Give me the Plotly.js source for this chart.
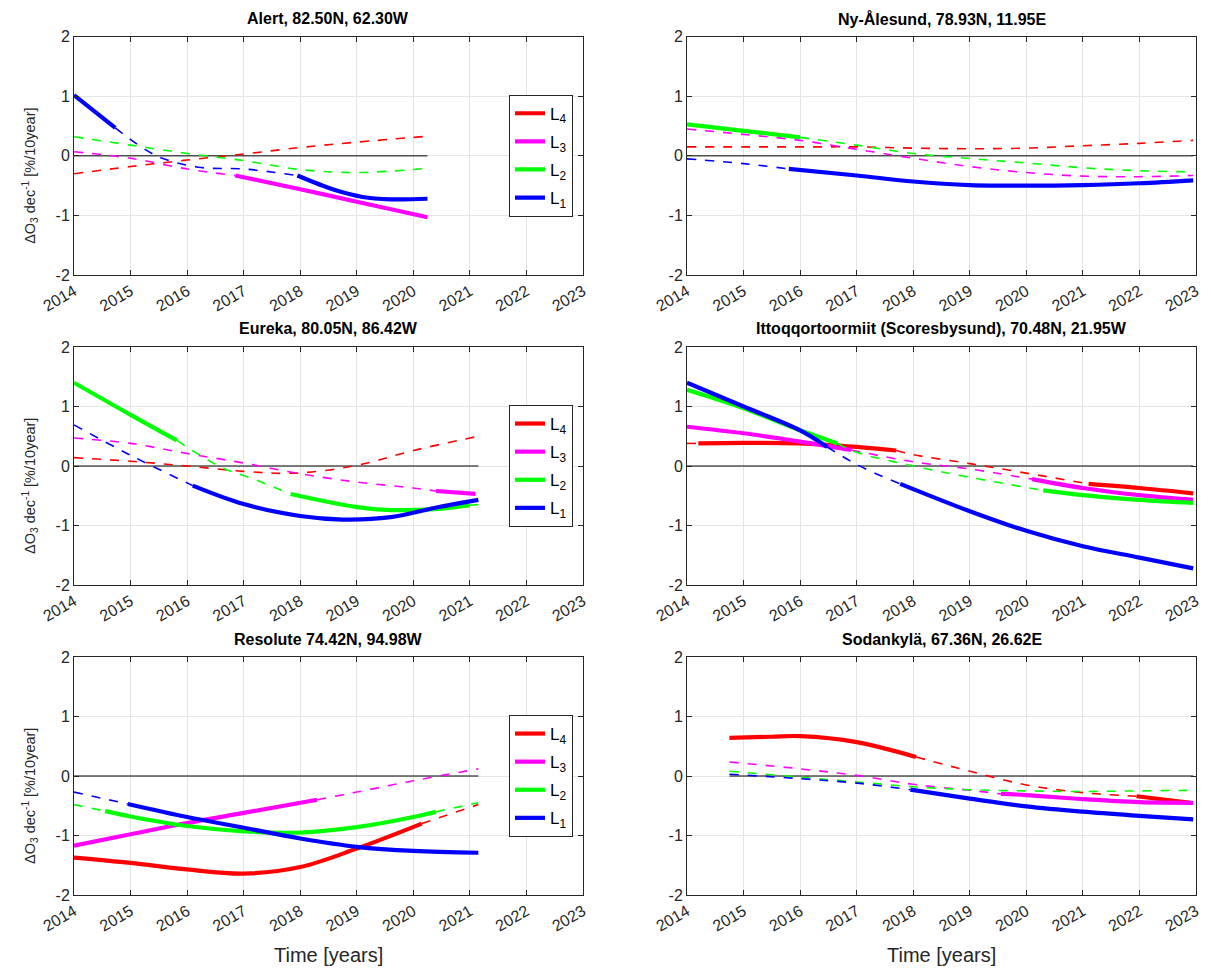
<!DOCTYPE html>
<html><head><meta charset="utf-8">
<script src="https://cdn.plot.ly/plotly-3.0.1.min.js"></script>
<style>html,body{margin:0;padding:0;background:#fff}</style>
</head><body><div id="chart" style="width:1211px;height:971px"></div>
<script>
// ---------- tick labels / categories ----------
const xTickVals = [2014, 2015, 2016, 2017, 2018, 2019, 2020, 2021, 2022, 2023];
const xTickText = ['2014', '2015', '2016', '2017', '2018', '2019', '2020', '2021', '2022', '2023'];
const yTickVals = [-2, -1, 0, 1, 2];
const yTickText = ['-2', '-1', '0', '1', '2'];
const levelLabels = ['L<sub>4</sub>', 'L<sub>3</sub>', 'L<sub>2</sub>', 'L<sub>1</sub>'];
const levelColors = ['#ff0000', '#ff00ff', '#00ff00', '#0000ff'];
const stationTitles = [
  'Alert, 82.50N, 62.30W',
  'Ny-Ålesund, 78.93N, 11.95E',
  'Eureka, 80.05N, 86.42W',
  'Ittoqqortoormiit (Scoresbysund), 70.48N, 21.95W',
  'Resolute 74.42N, 94.98W',
  'Sodankylä, 67.36N, 26.62E'
];
const yTitle = 'ΔO<sub>3</sub> dec<sup>-1</sup> [%/10year]';
const xTitle = 'Time [years]';

// ---------- data: x = year, y = trend, s = 1 solid (significant) / 0 dashed for segment starting at point ----------
// Alert
const alertL4x = [2014, 2015, 2016, 2017, 2018, 2019, 2020.25];
const alertL4y = [-0.30, -0.18, -0.07, 0.03, 0.14, 0.23, 0.33];
const alertL4s = [0, 0, 0, 0, 0, 0, 0];
const alertL3x = [2014, 2015, 2016, 2016.85, 2018, 2019, 2020.25];
const alertL3y = [0.07, -0.04, -0.22, -0.33, -0.56, -0.77, -1.03];
const alertL3s = [0, 0, 0, 1, 1, 1, 1];
const alertL2x = [2014, 2015, 2016, 2017, 2018, 2019, 2020.25];
const alertL2y = [0.32, 0.18, 0.04, -0.08, -0.23, -0.28, -0.21];
const alertL2s = [0, 0, 0, 0, 0, 0, 0];
const alertL1x = [2014, 2014.73, 2015.46, 2016.2, 2017, 2017.95, 2018.6, 2019.1, 2019.6, 2020.25];
const alertL1y = [1.02, 0.47, 0.0, -0.19, -0.22, -0.33, -0.57, -0.69, -0.73, -0.72];
const alertL1s = [1, 0, 0, 0, 0, 1, 1, 1, 1, 1];
// Ny-Ålesund
const nyL4x = [2014, 2015, 2016, 2017, 2018, 2019, 2020, 2021, 2022, 2022.95];
const nyL4y = [0.15, 0.15, 0.15, 0.15, 0.13, 0.12, 0.13, 0.17, 0.21, 0.26];
const nyL4s = [0, 0, 0, 0, 0, 0, 0, 0, 0, 0];
const nyL3x = [2014, 2015, 2016, 2017, 2018, 2019, 2020, 2021, 2022, 2022.95];
const nyL3y = [0.45, 0.36, 0.26, 0.11, -0.04, -0.18, -0.28, -0.34, -0.35, -0.33];
const nyL3s = [0, 0, 0, 0, 0, 0, 0, 0, 0, 0];
const nyL2x = [2014, 2015, 2016, 2017, 2018, 2019, 2020, 2021, 2022, 2022.95];
const nyL2y = [0.53, 0.42, 0.31, 0.18, 0.04, -0.045, -0.12, -0.20, -0.25, -0.27];
const nyL2s = [1, 1, 0, 0, 0, 0, 0, 0, 0, 0];
const nyL1x = [2014, 2015, 2015.8, 2017, 2018, 2019, 2020, 2021, 2022, 2022.95];
const nyL1y = [-0.05, -0.13, -0.22, -0.33, -0.43, -0.49, -0.50, -0.49, -0.46, -0.41];
const nyL1s = [0, 0, 1, 1, 1, 1, 1, 1, 1, 1];
// Eureka
const eurL4x = [2014, 2015, 2016, 2017, 2017.9, 2019, 2020, 2021.15];
const eurL4y = [0.14, 0.08, 0.0, -0.09, -0.12, 0.01, 0.26, 0.50];
const eurL4s = [0, 0, 0, 0, 0, 0, 0, 0];
const eurL3x = [2014, 2015, 2016, 2017, 2018, 2019, 2020, 2020.4, 2021.1];
const eurL3y = [0.47, 0.38, 0.21, 0.05, -0.13, -0.27, -0.37, -0.42, -0.47];
const eurL3s = [0, 0, 0, 0, 0, 0, 0, 1, 1];
const eurL2x = [2014, 2015, 2015.82, 2016.6, 2017.15, 2017.83, 2019, 2019.6, 2020.45, 2021.0, 2021.15];
const eurL2y = [1.40, 0.86, 0.43, -0.02, -0.21, -0.47, -0.69, -0.74, -0.72, -0.66, -0.65];
const eurL2s = [1, 1, 0, 0, 0, 1, 1, 1, 1, 0, 0];
const eurL1x = [2014, 2015, 2016.1, 2017, 2018, 2018.75, 2019.6, 2020.45, 2021.15];
const eurL1y = [0.69, 0.18, -0.33, -0.64, -0.84, -0.90, -0.86, -0.69, -0.57];
const eurL1s = [0, 0, 1, 1, 1, 1, 1, 1, 1];
// Ittoqqortoormiit
const itoL4x = [2014, 2014.2, 2015, 2016, 2017, 2017.7, 2018, 2019, 2020, 2021.1, 2022, 2022.95];
const itoL4y = [0.38, 0.38, 0.39, 0.38, 0.32, 0.26, 0.19, 0.04, -0.12, -0.30, -0.37, -0.46];
const itoL4s = [0, 1, 1, 1, 1, 0, 0, 0, 0, 1, 1, 1];
const itoL3x = [2014, 2015, 2016, 2016.9, 2018, 2019, 2020.1, 2021, 2022, 2022.95];
const itoL3y = [0.66, 0.55, 0.41, 0.27, 0.07, -0.05, -0.22, -0.37, -0.49, -0.57];
const itoL3s = [1, 1, 1, 0, 0, 0, 1, 1, 1, 1];
const itoL2x = [2014, 2015, 2016, 2016.66, 2017, 2018, 2019, 2020.3, 2021, 2022, 2022.95];
const itoL2y = [1.28, 0.97, 0.60, 0.38, 0.23, 0.0, -0.19, -0.41, -0.49, -0.57, -0.62];
const itoL2s = [1, 1, 1, 0, 0, 0, 0, 1, 1, 1, 1];
const itoL1x = [2014, 2015, 2016, 2016.48, 2017.03, 2017.77, 2019, 2020, 2021, 2022, 2022.95];
const itoL1y = [1.40, 1.0, 0.60, 0.32, 0.01, -0.30, -0.76, -1.09, -1.35, -1.54, -1.72];
const itoL1s = [1, 1, 1, 0, 0, 1, 1, 1, 1, 1, 1];
// Resolute
const resL4x = [2014, 2015, 2016, 2017, 2018, 2019, 2020.15, 2021.15];
const resL4y = [-1.37, -1.46, -1.57, -1.64, -1.53, -1.22, -0.80, -0.48];
const resL4s = [1, 1, 1, 1, 1, 1, 0, 0];
const resL3x = [2014, 2015, 2016, 2017, 2018.3, 2019, 2020, 2021.15];
const resL3y = [-1.17, -0.98, -0.79, -0.62, -0.40, -0.27, -0.08, 0.12];
const resL3s = [1, 1, 1, 1, 0, 0, 0, 0];
const resL2x = [2014, 2014.55, 2015, 2016, 2017, 2018, 2019, 2020, 2020.4, 2021.15];
const resL2y = [-0.48, -0.59, -0.68, -0.84, -0.93, -0.95, -0.86, -0.69, -0.60, -0.45];
const resL2s = [0, 1, 1, 1, 1, 1, 1, 1, 0, 0];
const resL1x = [2014, 2014.95, 2016, 2017, 2018, 2019, 2020, 2021.15];
const resL1y = [-0.27, -0.47, -0.69, -0.87, -1.05, -1.19, -1.26, -1.29];
const resL1s = [0, 1, 1, 1, 1, 1, 1, 1];
// Sodankylä
const sodL4x = [2014.75, 2015.5, 2016, 2017, 2018.05, 2019, 2020, 2021, 2021.95, 2022.9];
const sodL4y = [0.64, 0.66, 0.67, 0.57, 0.32, 0.08, -0.15, -0.28, -0.34, -0.45];
const sodL4s = [1, 1, 1, 1, 0, 0, 0, 0, 1, 1];
const sodL3x = [2014.75, 2016, 2017, 2018, 2019, 2019.55, 2020, 2021, 2022, 2022.95];
const sodL3y = [0.235, 0.12, 0.01, -0.14, -0.24, -0.30, -0.32, -0.39, -0.44, -0.45];
const sodL3s = [0, 0, 0, 0, 0, 1, 1, 1, 1, 1];
const sodL2x = [2014.75, 2016, 2017, 2018, 2019, 2020, 2021, 2022, 2022.95];
const sodL2y = [0.08, -0.02, -0.10, -0.18, -0.23, -0.25, -0.26, -0.25, -0.24];
const sodL2s = [0, 0, 0, 0, 0, 0, 0, 0, 0];
const sodL1x = [2014.75, 2016, 2017, 2017.95, 2019, 2020, 2021, 2022, 2022.95];
const sodL1y = [0.03, -0.045, -0.12, -0.23, -0.38, -0.51, -0.60, -0.67, -0.73];
const sodL1s = [0, 0, 0, 1, 1, 1, 1, 1, 1];

const panelSeries = [
  [[alertL4x, alertL4y, alertL4s], [alertL3x, alertL3y, alertL3s], [alertL2x, alertL2y, alertL2s], [alertL1x, alertL1y, alertL1s]],
  [[nyL4x, nyL4y, nyL4s], [nyL3x, nyL3y, nyL3s], [nyL2x, nyL2y, nyL2s], [nyL1x, nyL1y, nyL1s]],
  [[eurL4x, eurL4y, eurL4s], [eurL3x, eurL3y, eurL3s], [eurL2x, eurL2y, eurL2s], [eurL1x, eurL1y, eurL1s]],
  [[itoL4x, itoL4y, itoL4s], [itoL3x, itoL3y, itoL3s], [itoL2x, itoL2y, itoL2s], [itoL1x, itoL1y, itoL1s]],
  [[resL4x, resL4y, resL4s], [resL3x, resL3y, resL3s], [resL2x, resL2y, resL2s], [resL1x, resL1y, resL1s]],
  [[sodL4x, sodL4y, sodL4s], [sodL3x, sodL3y, sodL3s], [sodL2x, sodL2y, sodL2s], [sodL1x, sodL1y, sodL1s]]
];
const legendPanels = [0, 2, 4];

// ---------- layout geometry ----------
const W = 1211, H = 971;
const colPx = [[74, 583], [687, 1196]];
const rowPx = [[36.7, 275], [347, 585], [657, 895]];
const FONT = 'Liberation Sans, Arial, Helvetica, sans-serif';
const AX = '#262626';

function splitSegments(x, y, s) {
  const out = [];
  let cur = {solid: s[0], x: [x[0]], y: [y[0]]};
  for (let i = 1; i < x.length; i++) {
    cur.x.push(x[i]); cur.y.push(y[i]);
    if (i < x.length - 1 && s[i] !== cur.solid) {
      out.push(cur);
      cur = {solid: s[i], x: [x[i]], y: [y[i]]};
    }
  }
  out.push(cur);
  return out;
}

const traces = [];
const layout = {
  width: W, height: H, margin: {l: 0, r: 0, t: 0, b: 0},
  paper_bgcolor: '#fff', plot_bgcolor: '#fff', showlegend: true,
  font: {family: FONT, color: AX},
  annotations: []
};

panelSeries.forEach((series, p) => {
  const col = p % 2, row = Math.floor(p / 2);
  const sfx = p === 0 ? '' : String(p + 1);
  const xa = 'x' + sfx, ya = 'y' + sfx;
  const xd = [colPx[col][0] / W, colPx[col][1] / W];
  const yd = [1 - rowPx[row][1] / H, 1 - rowPx[row][0] / H];
  layout['xaxis' + sfx] = {
    domain: xd, anchor: ya, range: [2014, 2023], tickvals: xTickVals, ticktext: xTickText,
    tickangle: -30, showgrid: true, gridcolor: '#e4e4e4', gridwidth: 1, zeroline: false,
    showline: true, linecolor: AX, linewidth: 1, mirror: 'ticks', ticks: 'inside', ticklen: 5,
    tickcolor: AX, tickfont: {family: FONT, size: 16, color: AX}, fixedrange: true
  };
  layout['yaxis' + sfx] = {
    domain: yd, anchor: xa, range: [-2, 2], tickvals: yTickVals, ticktext: yTickText,
    showgrid: true, gridcolor: '#e4e4e4', gridwidth: 1, zeroline: false,
    showline: true, linecolor: AX, linewidth: 1, mirror: 'ticks', ticks: 'inside', ticklen: 5,
    tickcolor: AX, tickfont: {family: FONT, size: 16, color: AX}, fixedrange: true
  };
  // zero reference line over the data span
  let xmin = Infinity, xmax = -Infinity;
  series.forEach(sr => { xmin = Math.min(xmin, sr[0][0]); xmax = Math.max(xmax, sr[0][sr[0].length - 1]); });
  traces.push({x: [xmin, xmax], y: [0, 0], xaxis: xa, yaxis: ya, mode: 'lines',
    line: {color: '#000', width: 1}, showlegend: false, hoverinfo: 'skip'});
  series.forEach((sr, k) => {
    splitSegments(sr[0], sr[1], sr[2]).forEach(seg => {
      traces.push({
        x: seg.x, y: seg.y, xaxis: xa, yaxis: ya, mode: 'lines', showlegend: false,
        line: {color: levelColors[k], width: seg.solid ? 4.2 : 1.6, dash: seg.solid ? 'solid' : 'dash',
          shape: 'spline', smoothing: 1}
      });
    });
  });
  // title
  layout.annotations.push({
    text: '<b>' + stationTitles[p] + '</b>', xref: 'paper', yref: 'paper',
    x: (xd[0] + xd[1]) / 2, y: 1 - (rowPx[row][0] - 18) / H, xanchor: 'center', yanchor: 'middle',
    showarrow: false, font: {family: FONT, size: 16, color: '#000'}
  });
  if (col === 0) {
    layout.annotations.push({
      text: yTitle, xref: 'paper', yref: 'paper', x: 30 / W,
      y: 1 - ((rowPx[row][0] + rowPx[row][1]) / 2 + 20) / H,
      xanchor: 'center', yanchor: 'middle', textangle: -90, showarrow: false,
      font: {family: FONT, size: 14.5, color: AX}
    });
  }
  if (row === 2) {
    layout.annotations.push({
      text: xTitle, xref: 'paper', yref: 'paper', x: (xd[0] + xd[1]) / 2, y: 1 - 955 / H,
      xanchor: 'center', yanchor: 'middle', showarrow: false,
      font: {family: FONT, size: 20, color: AX}
    });
  }
  const li = legendPanels.indexOf(p);
  if (li >= 0) {
    const lid = li === 0 ? 'legend' : 'legend' + (li + 1);
    levelLabels.forEach((lab, k) => {
      traces.push({x: [null], y: [null], xaxis: xa, yaxis: ya, mode: 'lines', name: lab,
        legend: lid, showlegend: true, legendgroup: lid + k,
        line: {color: levelColors[k], width: 4.2}});
    });
    layout[lid] = {
      x: 509 / W, y: 1 - (rowPx[row][0] + 58) / H, xanchor: 'left', yanchor: 'top',
      bgcolor: '#fff', bordercolor: AX, borderwidth: 1, traceorder: 'grouped', tracegroupgap: 3,
      font: {family: FONT, size: 17, color: '#000'}, itemwidth: 30
    };
  }
});

Plotly.newPlot('chart', traces, layout, {displayModeBar: false, staticPlot: true});
</script>
</body></html>
